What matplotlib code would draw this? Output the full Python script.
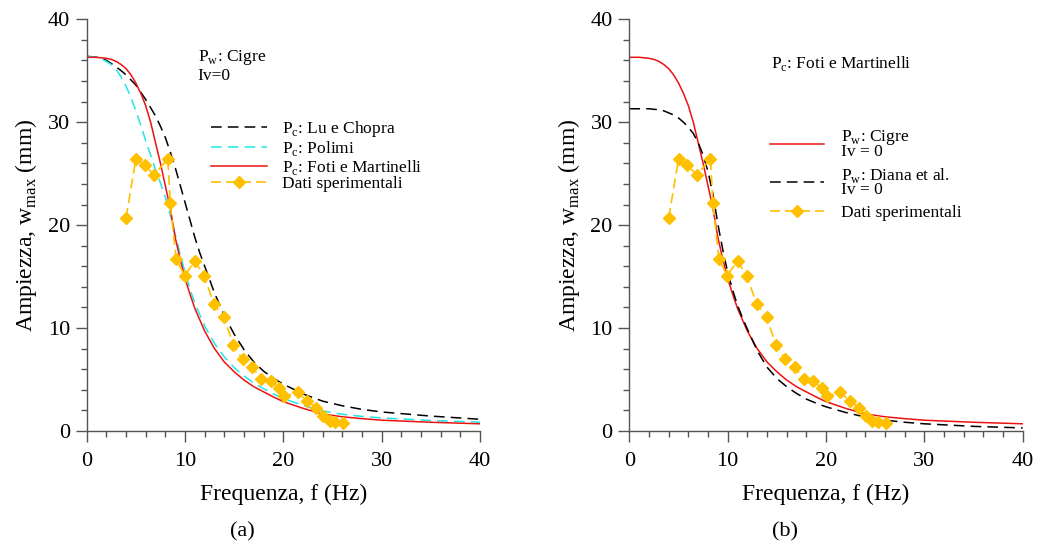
import matplotlib
matplotlib.use("Agg")
import matplotlib.pyplot as plt
from matplotlib.ticker import MultipleLocator

plt.rcParams['font.family'] = ['Liberation Serif', 'DejaVu Serif']
plt.rcParams['mathtext.fontset'] = 'custom'
plt.rcParams['mathtext.rm'] = 'Liberation Serif'

# experimental data (same in both panels)
fExp = [4.0, 5.0, 5.9, 6.85, 8.25, 8.5, 9.1, 9.95, 11.0, 11.95, 12.95, 13.95, 14.9,
        15.85, 16.8, 17.75, 18.7, 19.55, 20.1, 21.45, 22.4, 23.35, 24.05, 24.7, 25.3, 26.05]
wExp = [20.7, 26.4, 25.8, 24.9, 26.4, 22.1, 16.7, 15.1, 16.5, 15.05, 12.3, 11.05, 8.4,
        6.95, 6.25, 5.05, 4.85, 4.15, 3.4, 3.75, 2.95, 2.25, 1.5, 1.0, 0.85, 0.8]

# Pw Cigre, Pc Foti e Martinelli (red, both panels)
fRed = [0, 1, 2, 2.5, 3, 3.5, 4, 4.5, 5, 5.5, 6, 6.5, 7, 7.5, 8, 8.5, 9, 9.5, 10, 10.5,
        11, 12, 13, 14, 15, 16, 17, 18, 19, 20, 22, 24, 26, 28, 30, 35, 40]
wRed = [36.3, 36.3, 36.2, 36.1, 35.9, 35.6, 35.2, 34.6, 33.8, 32.8, 31.6, 30.0, 28.0,
        26.0, 23.8, 21.6, 18.8, 16.7, 14.8, 13.3, 11.9, 9.7, 8.0, 6.7, 5.75, 4.95, 4.3,
        3.8, 3.3, 2.85, 2.2, 1.65, 1.38, 1.2, 1.05, 0.85, 0.7]

# left panel: Pc Lu e Chopra
fLu = [0, 1, 1.5, 2, 2.5, 3, 3.5, 4, 4.5, 5, 5.5, 6, 6.5, 7, 7.5, 8, 8.5, 9, 9.5, 10,
       10.5, 11, 11.5, 12, 13, 14, 15, 16, 17, 18, 19, 20, 22, 24, 26, 28, 30, 35, 40]
wLu = [36.4, 36.3, 36.2, 36.0, 35.7, 35.35, 35.0, 34.6, 34.1, 33.6, 32.9, 32.2, 31.4,
       30.6, 29.6, 28.5, 27.1, 25.6, 23.9, 22.2, 20.5, 18.8, 17.3, 16.0, 13.4, 11.2,
       9.4, 7.9, 6.7, 5.8, 5.1, 4.55, 3.6, 2.9, 2.45, 2.1, 1.85, 1.45, 1.14]

# left panel: Pc Polimi
fPol = [0, 1, 1.5, 2, 2.5, 3, 3.5, 4, 4.5, 5, 5.5, 6, 6.5, 7, 7.5, 8, 8.5, 9, 9.5, 10,
        10.5, 11, 12, 13, 14, 15, 16, 17, 18, 19, 20, 22, 24, 26, 28, 30, 35, 40]
wPol = [36.4, 36.3, 36.15, 35.9, 35.6, 35.1, 34.4, 33.5, 32.4, 31.1, 29.7, 28.2, 26.8,
        25.4, 24.1, 22.7, 21.0, 19.1, 17.2, 15.4, 13.8, 12.4, 10.2, 8.5, 7.2, 6.15,
        5.35, 4.65, 4.1, 3.6, 3.15, 2.5, 1.95, 1.62, 1.42, 1.27, 1.02, 0.86]

# right panel: Pw Diana et al.
fDia = [0, 1, 2, 3, 3.5, 4, 4.5, 5, 5.5, 6, 6.5, 7, 7.5, 8, 8.5, 9, 9.5, 10, 10.5, 11,
        11.5, 12, 13, 14, 15, 16, 17, 18, 19, 20, 22, 24, 26, 28, 30, 35, 40]
wDia = [31.3, 31.3, 31.3, 31.2, 31.1, 30.9, 30.7, 30.4, 30.0, 29.5, 28.9, 28.0, 26.8,
        25.2, 23.0, 20.1, 17.6, 15.4, 13.7, 12.2, 11.0, 9.9, 7.8, 6.2, 5.1, 4.3, 3.65,
        3.1, 2.7, 2.35, 1.8, 1.35, 1.05, 0.85, 0.7, 0.45, 0.3]

GOLD = '#FFC000'


def styleAxes(ax):
    ax.set_xlim(0, 40)
    ax.set_ylim(0, 40)
    ax.spines['top'].set_visible(False)
    ax.spines['right'].set_visible(False)
    for s in ['left', 'bottom']:
        ax.spines[s].set_color('#555555')
        ax.spines[s].set_linewidth(1.0)
    ax.xaxis.set_major_locator(MultipleLocator(10))
    ax.xaxis.set_minor_locator(MultipleLocator(2))
    ax.yaxis.set_major_locator(MultipleLocator(10))
    ax.yaxis.set_minor_locator(MultipleLocator(2))
    ax.tick_params(which='major', length=8, width=1.0, color='#555555', labelsize=16)
    ax.tick_params(which='minor', length=4, width=1.0, color='#555555')
    ax.tick_params(axis='x', which='major', pad=7)
    ax.tick_params(axis='y', which='major', pad=4)
    ax.set_xlabel('Frequenza, f (Hz)', fontsize=17, labelpad=9)
    ax.set_ylabel(r'Ampiezza, w$_{\rm max}$ (mm)', fontsize=17, labelpad=6)


def plotExp(ax):
    ax.plot(fExp, wExp, color=GOLD, lw=1.2, dashes=(6, 3), marker='D', ms=6,
            mec=GOLD, mfc=GOLD, label='Dati sperimentali', clip_on=False)


fig = plt.figure(figsize=(10.42, 5.44), dpi=100)
axA = fig.add_axes([0.0832, 0.2077, 0.3775, 0.757])
axB = fig.add_axes([0.604, 0.2077, 0.3775, 0.757])

# panel (a)
axA.plot(fLu, wLu, color='black', lw=1.1, dashes=(7, 4), label=r'P$_{\rm c}$: Lu e Chopra')
axA.plot(fPol, wPol, color='#22E5E5', lw=1.1, dashes=(7, 4), label=r'P$_{\rm c}$: Polimi')
axA.plot(fRed, wRed, color='#EE1111', lw=1.1, label=r'P$_{\rm c}$: Foti e Martinelli')
plotExp(axA)
styleAxes(axA)
axA.text(11.3, 36.3, r'P$_{\rm w}$: Cigre', fontsize=12.5, va='center')
axA.text(11.3, 34.5, 'Iv=0', fontsize=12.5, va='center')
axA.legend(loc='upper left', bbox_to_anchor=(0.316, 0.757), frameon=False, fontsize=12.5,
           borderpad=0, borderaxespad=0, handlelength=3.2, handletextpad=0.9,
           labelspacing=-0.02)

# panel (b)
axB.plot(fRed, wRed, color='#EE1111', lw=1.1, label=r'P$_{\rm w}$: Cigre' + '\nIv = 0')
axB.plot(fDia, wDia, color='black', lw=1.1, dashes=(7, 4),
         label=r'P$_{\rm w}$: Diana et al.' + '\nIv = 0')
plotExp(axB)
styleAxes(axB)
axB.text(14.4, 35.7, r'P$_{\rm c}$: Foti e Martinelli', fontsize=12.5, va='center')
legB = axB.legend(loc='upper left', bbox_to_anchor=(0.358, 0.735), frameon=False,
                  fontsize=12.5, borderpad=0, borderaxespad=0, handlelength=3.1,
                  handletextpad=1.0, labelspacing=0.35)
for t in legB.get_texts():
    t.set_linespacing(0.75)

fig.text(0.233, 0.022, '(a)', fontsize=16, ha='center', va='center')
fig.text(0.753, 0.022, '(b)', fontsize=16, ha='center', va='center')

fig.savefig('out.png', dpi=100)
